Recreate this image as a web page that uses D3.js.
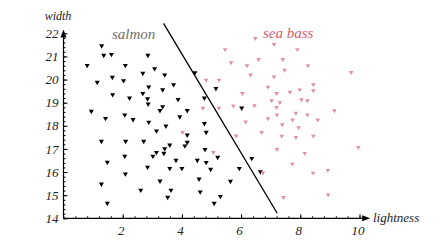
<!DOCTYPE html>
<html>
<head>
<meta charset="utf-8">
<script src="https://cdn.jsdelivr.net/npm/d3@7"></script>
<style>
  body { margin: 0; background: #fff; }
</style>
</head>
<body>
<div id="chart"></div>
<script>
// salmon (black) samples: lightness / width
const salmonX = [1.29, 1.36, 1.62, 2.85, 0.80, 2.09, 3.08, 2.68, 3.42, 4.44, 1.65, 2.03, 1.14, 2.88, 3.72,
  3.35, 1.66, 2.68, 2.23, 2.84, 4.76, 3.87, 2.86, 3.35, 3.26, 4.18, 0.94, 2.07, 3.93, 1.42, 2.35, 2.88,
  4.76, 5.15, 6.02, 3.46, 3.14, 4.18, 4.82, 1.28, 2.10, 2.71, 4.18, 4.10, 3.59, 3.42, 3.14, 3.39, 4.78,
  3.02, 2.07, 3.80, 4.52, 4.82, 1.48, 2.84, 3.59, 4.00, 4.97, 2.09, 4.58, 1.28, 3.26, 2.61, 3.63, 4.62,
  3.52, 1.48, 5.09, 5.21, 6.36, 5.94, 6.65, 5.64, 5.30];
const salmonY = [21.46, 21.05, 21.09, 21.05, 20.61, 20.61, 20.47, 20.27, 20.20, 20.30, 20.10, 19.95, 19.88, 19.68, 19.78,
  19.56, 19.35, 19.40, 19.20, 19.17, 19.20, 19.14, 18.94, 18.83, 18.66, 18.66, 18.63, 18.47, 18.39, 18.32, 18.27, 18.16,
  18.10, 19.61, 18.77, 17.99, 17.78, 17.60, 17.72, 17.33, 17.33, 17.33, 17.29, 17.13, 17.17, 17.01, 16.85, 16.81, 16.98,
  16.69, 16.69, 16.51, 16.51, 16.42, 16.43, 16.21, 16.16, 16.16, 16.12, 15.92, 15.70, 15.48, 15.61, 15.22, 15.22, 15.14,
  14.91, 14.65, 14.65, 16.64, 16.59, 16.16, 16.02, 15.60, 14.95];

// sea bass (pink) samples
const seaBassX = [6.48, 7.11, 5.46, 7.90, 5.66, 6.59, 7.41, 6.20, 8.26, 7.47, 6.32, 7.11, 9.72, 4.82, 5.25,
  8.44, 6.91, 8.44, 7.98, 7.65, 7.20, 6.04, 7.03, 7.31, 8.04, 8.24, 5.74, 6.45, 7.20, 4.71, 5.25, 9.15,
  7.85, 8.24, 7.21, 8.59, 6.91, 7.74, 6.15, 7.39, 7.94, 5.83, 6.69, 7.37, 7.85, 8.44, 7.21, 8.15, 9.96,
  5.06, 7.73, 6.74, 8.43, 8.93, 7.43, 8.94, 4.02];
const seaBassY = [21.78, 21.52, 21.30, 21.30, 20.73, 20.87, 20.87, 20.60, 20.60, 20.41, 20.20, 20.12, 20.31, 19.98, 19.98,
  19.78, 19.68, 19.52, 19.56, 19.46, 19.40, 19.40, 19.09, 19.00, 19.13, 19.09, 18.86, 18.87, 18.80, 18.77, 18.77, 18.66,
  18.55, 18.47, 18.47, 18.26, 18.31, 18.26, 18.17, 18.05, 17.92, 17.57, 17.72, 17.56, 17.50, 17.56, 16.98, 16.81, 17.07,
  16.85, 16.35, 15.97, 15.96, 16.08, 14.91, 15.02, 17.72];

// decision boundary end points
const boundaryX = [3.38, 7.22];
const boundaryY = [22.43, 14.22];

const xTicks = [2, 4, 6, 8, 10];
const yTicks = [14, 15, 16, 17, 18, 19, 20, 21, 22];

const FONT = "'Liberation Serif', 'DejaVu Serif', serif";
const W = 439, H = 249;
const svg = d3.select("#chart").append("svg")
  .attr("width", W)
  .attr("height", H);

const x = d3.scaleLinear().domain([0, 10]).range([63.5, 359.5]);
const y = d3.scaleLinear().domain([14, 22]).range([218.3, 33.3]);

// minor ticks
svg.append("g")
  .attr("transform", `translate(${x(0)},0)`)
  .call(d3.axisLeft(y).tickValues(d3.range(14, 22.01, 0.2)).tickSize(-2).tickFormat(""))
  .call(g => g.select(".domain").remove());
svg.append("g")
  .attr("transform", `translate(0,${y(14)})`)
  .call(d3.axisBottom(x).tickValues(d3.range(0, 10.3, 0.4)).tickSize(-2).tickFormat(""))
  .call(g => g.select(".domain").remove());

// major ticks + labels
const yAxis = svg.append("g")
  .attr("transform", `translate(${x(0)},0)`)
  .call(d3.axisLeft(y).tickValues(yTicks).tickSize(-4).tickPadding(5))
  .call(g => g.select(".domain").remove());
yAxis.selectAll("text")
  .style("font-family", FONT).style("font-style", "italic")
  .style("font-size", "13px").attr("fill", "#222");

const xAxis = svg.append("g")
  .attr("transform", `translate(0,${y(14)})`)
  .call(d3.axisBottom(x).tickValues(xTicks).tickSize(-4).tickPadding(7))
  .call(g => g.select(".domain").remove());
xAxis.selectAll("text")
  .style("font-family", FONT).style("font-style", "italic")
  .style("font-size", "13px").attr("fill", "#222").attr("dx", -2);

// axis lines with arrows
svg.append("line")
  .attr("x1", x(0)).attr("x2", x(10.26))
  .attr("y1", y(14)).attr("y2", y(14))
  .attr("stroke", "#000").attr("stroke-width", 1.2);
svg.append("path")
  .attr("d", `M${x(10.36)},${y(14)} l-8,-3 l0,6 z`)
  .attr("fill", "#000");
svg.append("line")
  .attr("x1", x(0)).attr("x2", x(0))
  .attr("y1", y(14)).attr("y2", y(22.0))
  .attr("stroke", "#000").attr("stroke-width", 1.2);
svg.append("path")
  .attr("d", `M${x(0)},${y(22.16)} l-3,8 l6,0 z`)
  .attr("fill", "#000");

function label(px, py, size, color, str, anchor) {
  svg.append("text")
    .attr("x", px).attr("y", py)
    .attr("text-anchor", anchor || "start")
    .style("font-family", FONT)
    .style("font-style", "italic")
    .style("font-size", size)
    .attr("fill", color)
    .text(str);
}

// axis titles
label(58, 20, "12px", "#222", "width", "middle");
label(373, 222, "13px", "#222", "lightness");

// class labels
label(112, 39, "15px", "#707070", "salmon");
label(263, 38, "15px", "#d8606e", "sea bass");

// decision boundary
svg.append("line")
  .attr("x1", x(boundaryX[0])).attr("y1", y(boundaryY[0]))
  .attr("x2", x(boundaryX[1])).attr("y2", y(boundaryY[1]))
  .attr("stroke", "#000")
  .attr("stroke-width", 1.3);

const tri = d3.symbol().type(d3.symbolTriangle);

svg.selectAll(".salmon")
  .data(salmonX.map((d, i) => [d, salmonY[i]]))
  .enter()
  .append("path")
    .attr("class", "salmon")
    .attr("d", tri.size(11)())
    .attr("transform", d => `translate(${x(d[0])},${y(d[1])}) rotate(180)`)
    .attr("fill", "#000");

svg.selectAll(".seabass")
  .data(seaBassX.map((d, i) => [d, seaBassY[i]]))
  .enter()
  .append("path")
    .attr("class", "seabass")
    .attr("d", tri.size(9)())
    .attr("transform", d => `translate(${x(d[0])},${y(d[1])}) rotate(180)`)
    .attr("fill", "#e0909e");
</script>
</body>
</html>
